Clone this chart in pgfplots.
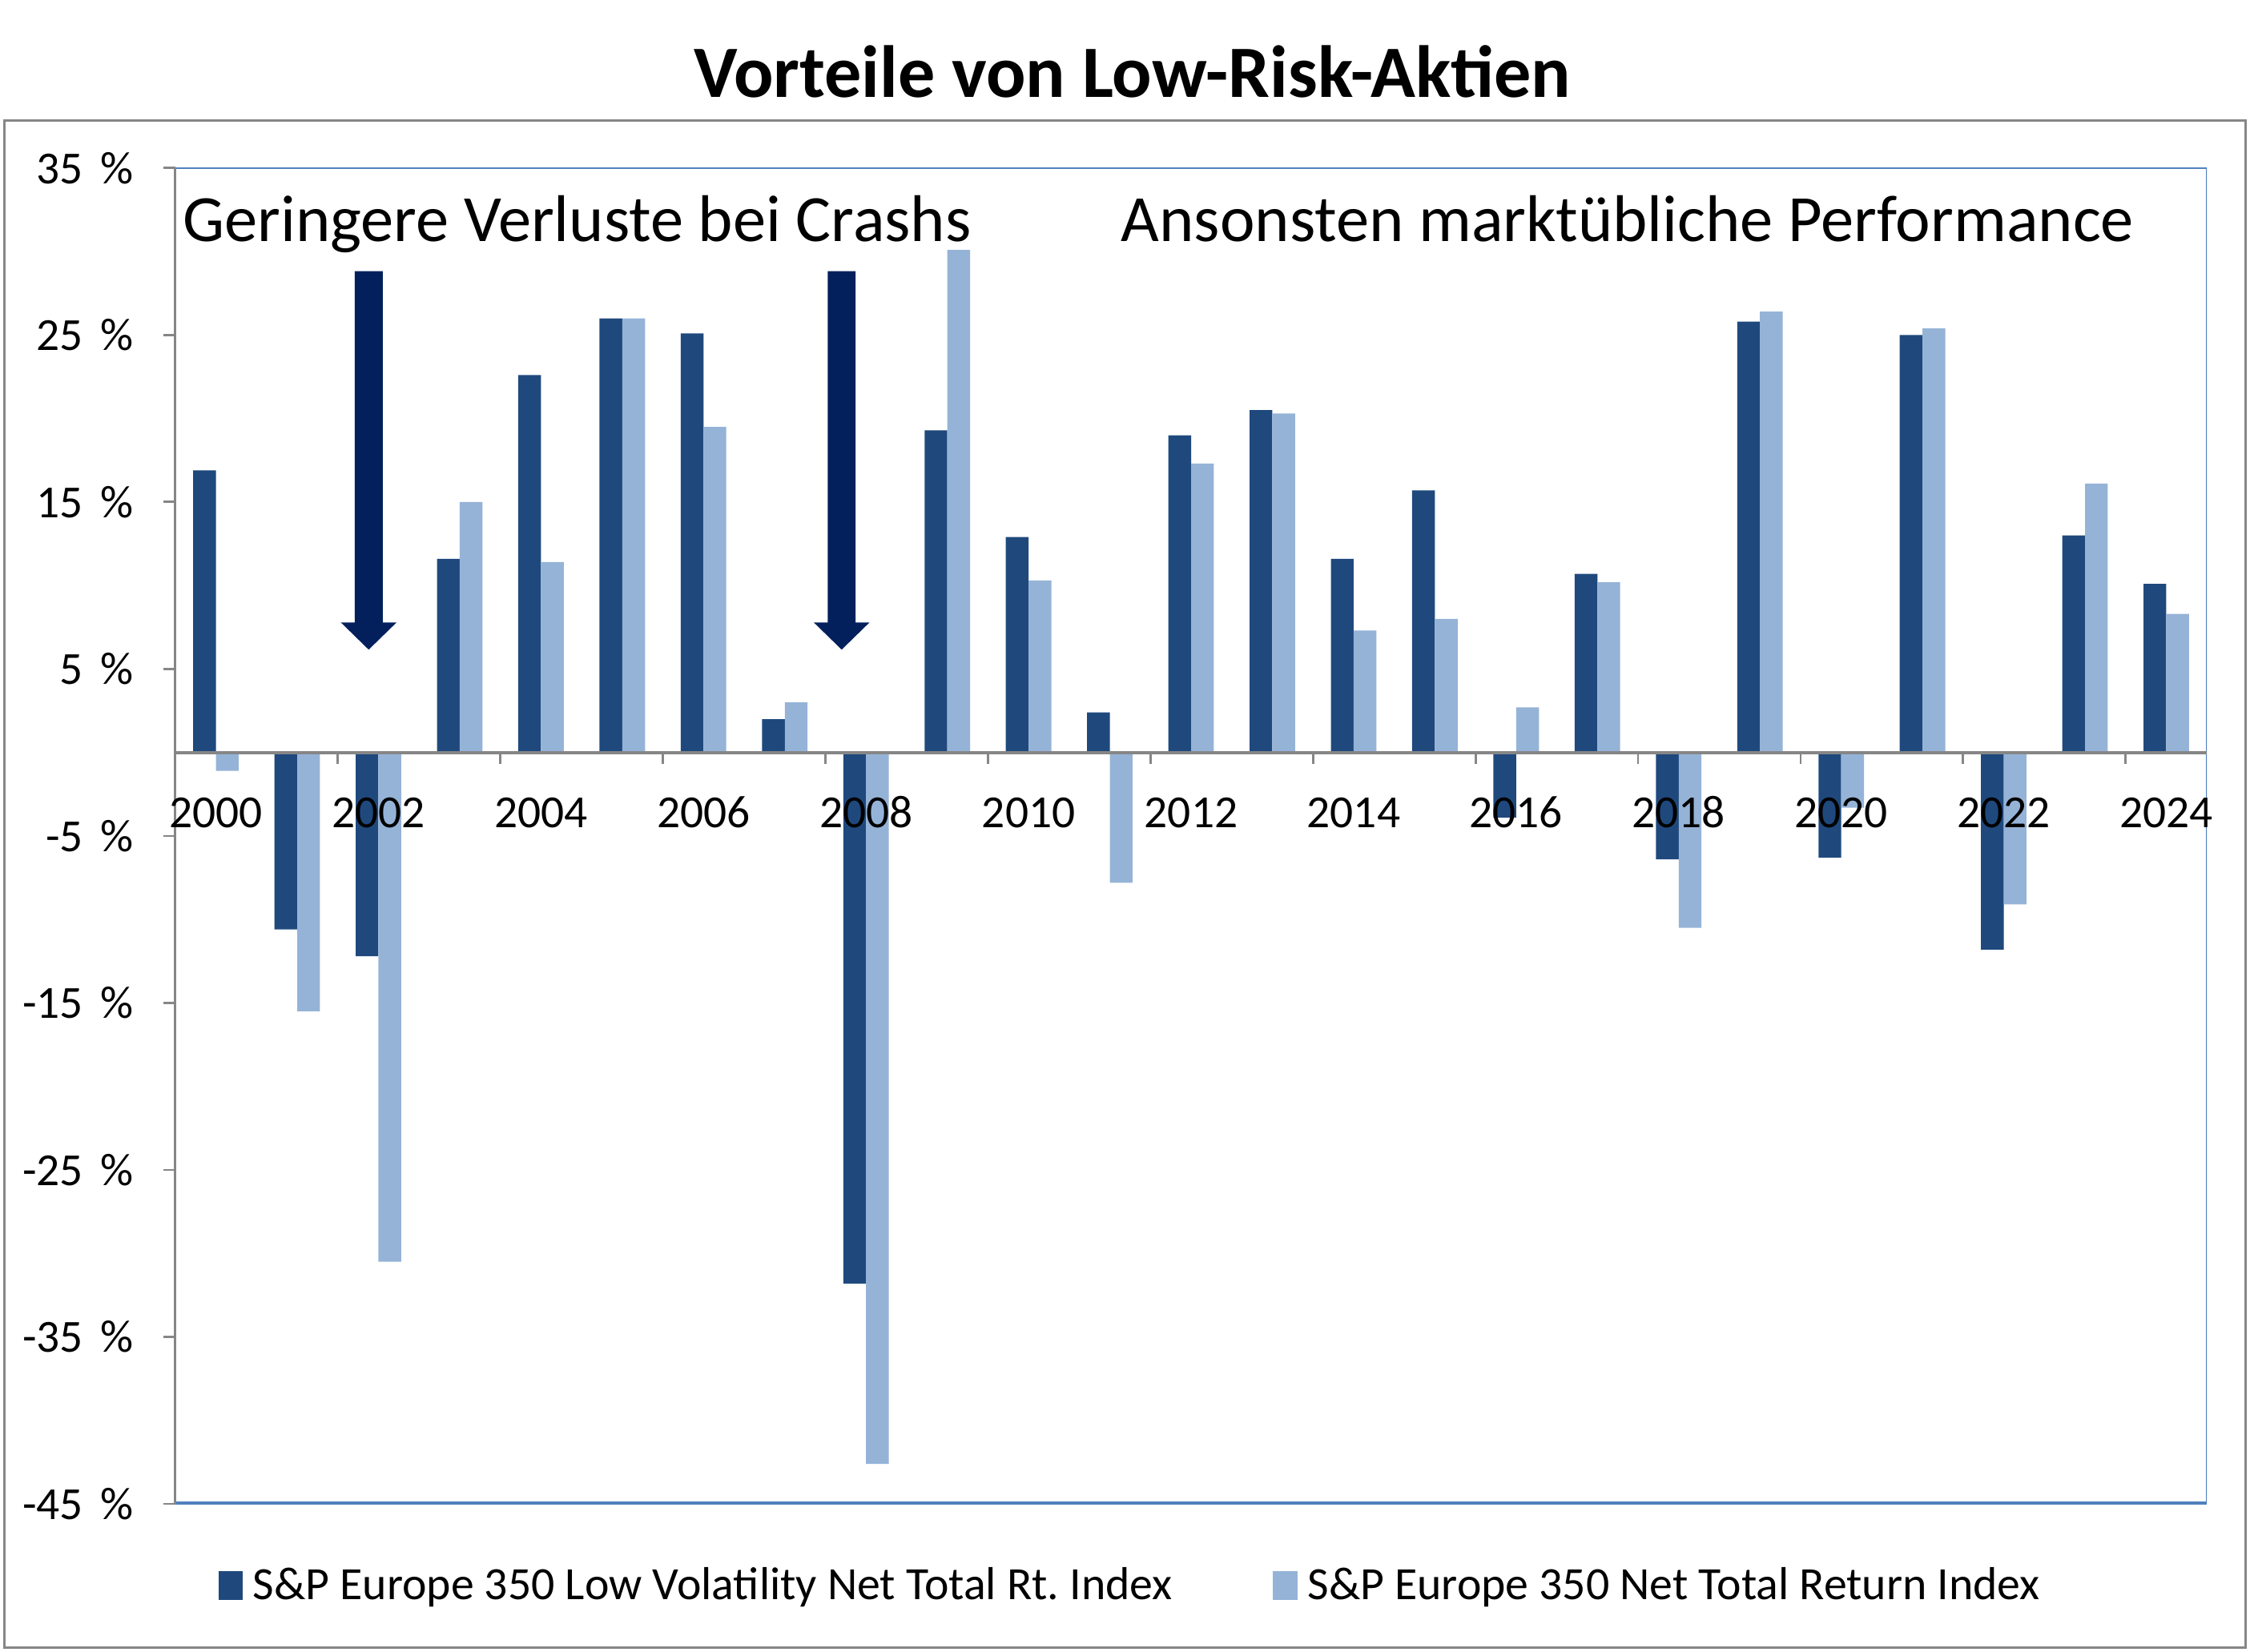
\documentclass[border=0pt]{standalone}
\usepackage{fontspec}
\setmainfont{Carlito}
\usepackage{pgfplots}
\usepackage{pgfplotstable}
\pgfplotsset{compat=1.18}

\definecolor{lowvol}{RGB}{31,73,125}
\definecolor{market}{RGB}{149,179,215}
\definecolor{arrowblue}{RGB}{3,32,92}
\definecolor{framegray}{RGB}{134,134,134}
\definecolor{plotblue}{RGB}{79,129,189}

% x = 0 -> 2000, ..., 24 -> 2024; returns in percent
\pgfplotstableread{
x lowvol market
0 16.9 -1.1
1 -10.6 -15.5
2 -12.2 -30.5
3 11.6 15.0
4 22.6 11.4
5 26.0 26.0
6 25.1 19.5
7 2.0 3.0
8 -31.8 -42.6
9 19.3 30.1
10 12.9 10.3
11 2.4 -7.8
12 19.0 17.3
13 20.5 20.3
14 11.6 7.3
15 15.7 8.0
16 -3.9 2.7
17 10.7 10.2
18 -6.4 -10.5
19 25.8 26.4
20 -6.3 -3.3
21 25.0 25.4
22 -11.8 -9.1
23 13.0 16.1
24 10.1 8.3
}\returns

\newcommand{\pct}[1]{#1\hspace{0.38em}\%}

\begin{document}
\begin{tikzpicture}
\useasboundingbox (-61pt,-51.5pt) rectangle (722pt,523.5pt);
\draw[framegray, line width=1pt] (-59.5pt,-50pt) rectangle (720.5pt,481.5pt);
\node[font=\bfseries\fontsize{25.7}{30}\selectfont] at (333pt,498.5pt) {Vorteile von Low-Risk-Aktien};

\begin{axis}[
  at={(0pt,0pt)}, anchor=south west,
  scale only axis, width=707pt, height=465pt,
  xmin=-0.5, xmax=24.5, ymin=-45, ymax=35,
  ybar=0pt, bar width=0.28,
  axis on top,
  axis x line=middle, axis y line=left,
  x axis line style={-, draw=framegray, line width=1.2pt},
  y axis line style={-, draw=framegray, line width=0.8pt},
  tick align=outside,
  major tick length=4pt,
  tick style={draw=framegray, line width=0.8pt},
  xtick={1.5,3.5,...,23.5},
  xticklabels={},
  extra x ticks={0,2,...,24},
  extra x tick labels={2000,2002,2004,2006,2008,2010,2012,2014,2016,2018,2020,2022,2024},
  extra x tick style={major tick length=0pt},
  xticklabel style={font=\fontsize{16}{18}\selectfont, text height=11.5pt, text depth=0pt, yshift=-11pt},
  ytick={-45,-35,...,35},
  yticklabels={{\pct{-45}},{\pct{-35}},{\pct{-25}},{\pct{-15}},{\pct{-5}},{\pct{5}},{\pct{15}},{\pct{25}},{\pct{35}}},
  yticklabel style={font=\fontsize{16}{18}\selectfont, xshift=-7pt},
  legend columns=2,
  legend style={at={(0.471,0)}, anchor=center, yshift=-28.5pt, draw=none,
    font=\fontsize{16.1}{18}\selectfont,
    /tikz/every odd column/.append style={column sep=1.5pt},
    /tikz/every even column/.append style={column sep=33pt}},
]
\addplot[fill=lowvol, draw=none,
  legend image code/.code={\fill[lowvol] (0pt,-5pt) rectangle (8.5pt,5pt);}]
  table[x=x, y=lowvol] {\returns};
\addlegendentry{S\&P Europe 350 Low Volatility Net Total Rt.\ Index}
\addplot[fill=market, draw=none,
  legend image code/.code={\fill[market] (0pt,-5pt) rectangle (8.5pt,5pt);}]
  table[x=x, y=market] {\returns};
\addlegendentry{S\&P Europe 350 Net Total Return Index}

% plot frame
\draw[plotblue, line width=0.7pt] (rel axis cs:0,1) -- (rel axis cs:1,1) -- (rel axis cs:1,0);
\draw[plotblue, line width=1.5pt] (rel axis cs:0,0) -- (rel axis cs:1,0);

% crash arrows
\fill[arrowblue] (axis cs:1.708,28.83) -- (axis cs:2.052,28.83) -- (axis cs:2.052,7.78)
  -- (axis cs:2.221,7.78) -- (axis cs:1.88,6.16) -- (axis cs:1.539,7.78)
  -- (axis cs:1.708,7.78) -- cycle;
\fill[arrowblue] (axis cs:7.528,28.83) -- (axis cs:7.872,28.83) -- (axis cs:7.872,7.78)
  -- (axis cs:8.041,7.78) -- (axis cs:7.70,6.16) -- (axis cs:7.359,7.78)
  -- (axis cs:7.528,7.78) -- cycle;
\end{axis}

\node[anchor=base west, inner sep=0pt, font=\fontsize{23}{27}\selectfont] at (2.5pt,439.5pt) {Geringere Verluste bei Crashs};
\node[anchor=base west, inner sep=0pt, font=\fontsize{23}{27}\selectfont] at (329pt,439.5pt) {Ansonsten marktübliche Performance};
\end{tikzpicture}
\end{document}
